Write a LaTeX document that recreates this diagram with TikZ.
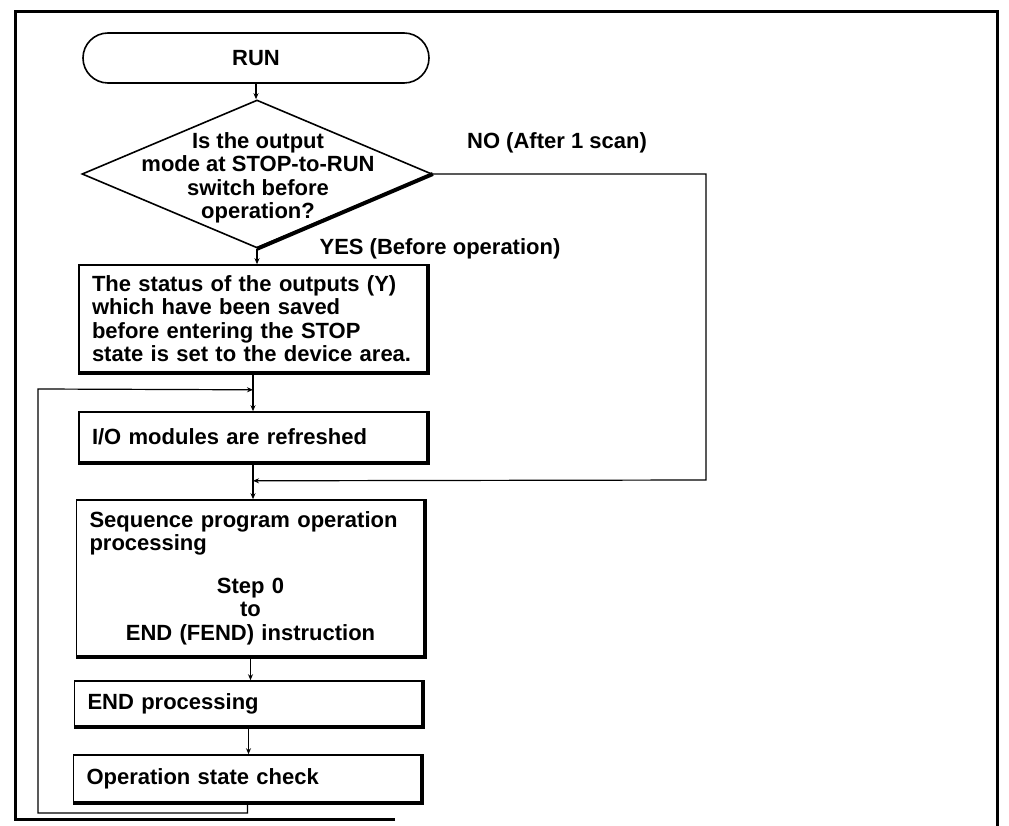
\documentclass[tikz,border=0pt]{standalone}
\usepackage{fontspec}
\setmainfont{Liberation Sans}
\usetikzlibrary{shapes.geometric,arrows.meta,calc}
\begin{document}
\begin{tikzpicture}[x=1pt,y=-1pt,
  font=\bfseries\fontsize{22}{23.5}\selectfont,
  box/.style={draw, line width=1.6pt, text width=322pt, align=left, inner xsep=13pt, inner ysep=0pt},
  heavy/.style={line width=4pt},
  conn/.style={line width=1.2pt},
  tip/.style={-{Stealth[length=6pt,width=5pt]}},
  frame/.style={line width=3pt}]
\useasboundingbox (0,0) rectangle (1009,826);
% outer frame
\draw[frame] (395,819) -- (15,819) -- (15,12) -- (997,12) -- (997,826);
% nodes
\node[draw, line width=1.6pt, rounded corners=25pt, minimum width=346pt, minimum height=50pt] (run) at (256,58) {RUN};
\node[diamond, draw, line width=1.6pt, minimum width=350pt, minimum height=148pt, inner sep=0pt] (dec) at (257,174) {};
\node[align=center] (dectext) at (258,178) {Is the output\\mode at STOP-to-RUN\\switch before\\operation?};
\draw[heavy] (dec.east) -- (dec.south);
\node[box, minimum height=107pt] (b1) at (253,318.5) {The status of the outputs (Y)\\which have been saved\\before entering the STOP\\state is set to the device area.};
\node[box, minimum height=50pt] (b2) at (253,437) {I/O modules are refreshed};
\node[box, minimum height=156pt] (b3) at (250.5,578) {Sequence program operation\\processing\par\vspace{19pt}{\centering Step 0\\to\\END (FEND) instruction\par}};
\node[box, minimum height=45pt] (b4) at (248.5,703.5) {END processing};
\node[box, minimum height=47pt] (b5) at (247.5,778.5) {Operation state check};
\foreach \n in {b1,b2,b3,b4,b5}
  \draw[heavy] (\n.north east) -- (\n.south east) -- (\n.south west);
% labels
\node (nolab) at (557,143) {NO (After 1 scan)};
\node (yeslab) at (440,249) {YES (Before operation)};
% junction and corner coordinates
\coordinate (j1) at ($(b1.south)+(0,17)$);
\coordinate (j2) at ($(b2.south)+(0,18)$);
\coordinate (nor) at (706,480);
\coordinate (loopbl) at (38,813);
\coordinate (looptl) at (38,389);
% connectors
\draw[conn,tip] (run.south) -- (run.south |- dec.north);
\draw[conn,tip] (dec.south) -- (dec.south |- b1.north);
\draw[conn,tip] (b1.south) -- (b1.south |- b2.north);
\draw[conn,tip] (b2.south) -- (b2.south |- b3.north);
\draw[conn,tip] (b3.south) -- (b3.south |- b4.north);
\draw[conn,tip] (b4.south) -- (b4.south |- b5.north);
\draw[conn,tip] (dec.east) -| (nor) -- (j2);
\draw[conn,tip] (b5.south) |- (loopbl) -- (looptl) -- (j1);
\end{tikzpicture}
\end{document}
